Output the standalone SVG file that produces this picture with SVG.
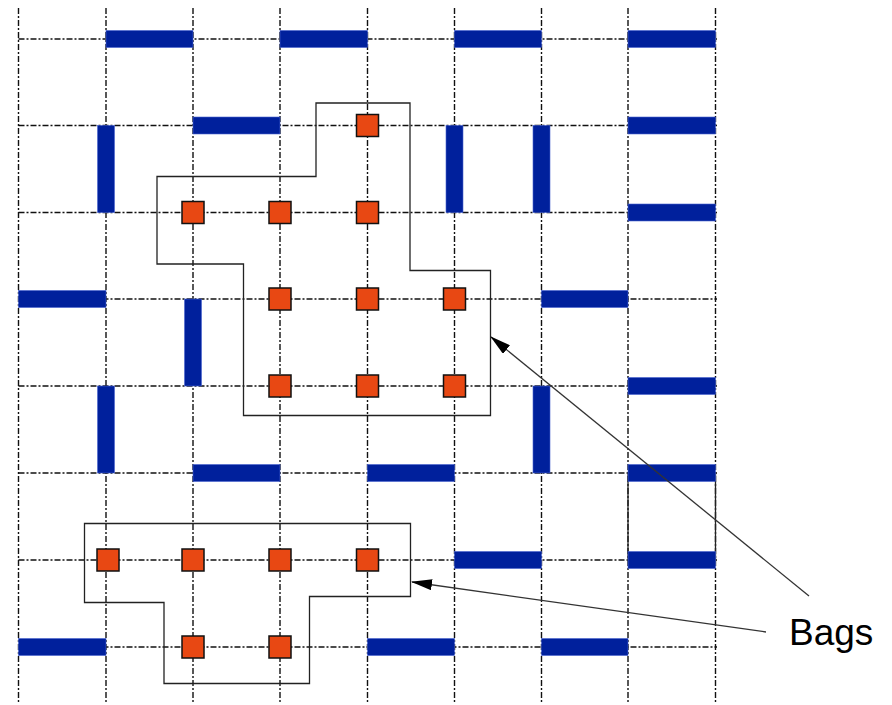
<svg xmlns="http://www.w3.org/2000/svg" width="892" height="705" viewBox="0 0 892 705">
  <style>
    .grid line { stroke: #111; stroke-width: 1.4; stroke-dasharray: 6 2 2 2; fill: none; }
    .bar { fill: #00209C; stroke: #4a64d0; stroke-width: 0.6; }
    .node rect { fill: #E84813; stroke: #111; stroke-width: 1.5; }
    .bag { fill: none; stroke: #222; stroke-width: 1.3; }
    .conn { stroke: #333; stroke-width: 1.3; fill: none; marker-end: url(#arrow); }
    .label { font-family: "Liberation Sans", Arial, sans-serif; font-size: 37px; fill: #000; }
  </style>
  <defs>
    <marker id="arrow" markerUnits="userSpaceOnUse" markerWidth="21" markerHeight="11" viewBox="0 0 21 11" refX="20" refY="5.5" orient="auto">
      <path d="M0,0 L21,5.5 L0,11 z" fill="#000"/>
    </marker>
  </defs>
  <rect width="892" height="705" fill="#fff"/>

  <g id="grid" class="grid">
    <line x1="18.5" y1="8" x2="18.5" y2="703"/>
    <line x1="106" y1="8" x2="106" y2="703"/>
    <line x1="193" y1="8" x2="193" y2="703"/>
    <line x1="280" y1="8" x2="280" y2="703"/>
    <line x1="367.5" y1="8" x2="367.5" y2="703"/>
    <line x1="454.5" y1="8" x2="454.5" y2="703"/>
    <line x1="541.5" y1="8" x2="541.5" y2="703"/>
    <line x1="628" y1="8" x2="628" y2="703"/>
    <line x1="715.5" y1="8" x2="715.5" y2="703"/>
    <line x1="18.5" y1="39" x2="717" y2="39"/>
    <line x1="18.5" y1="125.5" x2="717" y2="125.5"/>
    <line x1="18.5" y1="212.5" x2="717" y2="212.5"/>
    <line x1="18.5" y1="299" x2="717" y2="299"/>
    <line x1="18.5" y1="386" x2="717" y2="386"/>
    <line x1="18.5" y1="473" x2="717" y2="473"/>
    <line x1="18.5" y1="560" x2="717" y2="560"/>
    <line x1="18.5" y1="647" x2="717" y2="647"/>
  </g>

  <g id="bag-1"><path class="bag" d="M316,103 H410 V270.5 H490.5 V415.5 H243.5 V264 H157 V176.5 H316 Z"/></g>
  <g id="bag-2"><path class="bag" d="M84.5,523.5 H410.5 V596.5 H309.5 V683.5 H164 V602.5 H84.5 Z"/></g>
  <g id="cell-box"><rect class="bag" x="628" y="473" width="87.5" height="87"/></g>

  <g id="walls">
    <rect class="bar" x="106" y="30.5" width="87" height="17"/>
    <rect class="bar" x="280" y="30.5" width="87.5" height="17"/>
    <rect class="bar" x="454.5" y="30.5" width="87" height="17"/>
    <rect class="bar" x="628" y="30.5" width="87.5" height="17"/>
    <rect class="bar" x="193" y="117" width="87" height="17"/>
    <rect class="bar" x="628" y="117" width="87.5" height="17"/>
    <rect class="bar" x="97.5" y="125.5" width="17" height="87"/>
    <rect class="bar" x="446" y="125.5" width="17" height="87"/>
    <rect class="bar" x="533" y="125.5" width="17" height="87"/>
    <rect class="bar" x="628" y="204" width="87.5" height="17"/>
    <rect class="bar" x="18.5" y="290.5" width="87.5" height="17"/>
    <rect class="bar" x="541.5" y="290.5" width="86.5" height="17"/>
    <rect class="bar" x="184.5" y="299" width="17" height="87"/>
    <rect class="bar" x="628" y="377.5" width="87.5" height="17"/>
    <rect class="bar" x="97.5" y="386" width="17" height="87"/>
    <rect class="bar" x="533" y="386" width="17" height="87"/>
    <rect class="bar" x="193" y="464.5" width="87" height="17"/>
    <rect class="bar" x="367.5" y="464.5" width="87" height="17"/>
    <rect class="bar" x="628" y="464.5" width="87.5" height="17"/>
    <rect class="bar" x="454.5" y="551.5" width="87" height="17"/>
    <rect class="bar" x="628" y="551.5" width="87.5" height="17"/>
    <rect class="bar" x="18.5" y="638.5" width="87.5" height="17"/>
    <rect class="bar" x="367.5" y="638.5" width="87" height="17"/>
    <rect class="bar" x="541.5" y="638.5" width="86.5" height="17"/>
  </g>

  <g id="n-1-4" class="node"><rect x="356.5" y="114.5" width="22" height="22"/></g>
  <g id="n-2-2" class="node"><rect x="182" y="201.5" width="22" height="22"/></g>
  <g id="n-2-3" class="node"><rect x="269" y="201.5" width="22" height="22"/></g>
  <g id="n-2-4" class="node"><rect x="356.5" y="201.5" width="22" height="22"/></g>
  <g id="n-3-3" class="node"><rect x="269" y="288" width="22" height="22"/></g>
  <g id="n-3-4" class="node"><rect x="356.5" y="288" width="22" height="22"/></g>
  <g id="n-3-5" class="node"><rect x="443.5" y="288" width="22" height="22"/></g>
  <g id="n-4-3" class="node"><rect x="269" y="375" width="22" height="22"/></g>
  <g id="n-4-4" class="node"><rect x="356.5" y="375" width="22" height="22"/></g>
  <g id="n-4-5" class="node"><rect x="443.5" y="375" width="22" height="22"/></g>
  <g id="n-6-1" class="node"><rect x="97" y="549" width="22" height="22"/></g>
  <g id="n-6-2" class="node"><rect x="182" y="549" width="22" height="22"/></g>
  <g id="n-6-3" class="node"><rect x="269" y="549" width="22" height="22"/></g>
  <g id="n-6-4" class="node"><rect x="356.5" y="549" width="22" height="22"/></g>
  <g id="n-7-2" class="node"><rect x="182" y="636" width="22" height="22"/></g>
  <g id="n-7-3" class="node"><rect x="269" y="636" width="22" height="22"/></g>

  <g id="connectors">
    <line class="conn" x1="809" y1="596" x2="491" y2="337"/>
    <line class="conn" x1="766" y1="632" x2="412" y2="582"/>
  </g>

  <g id="label-bags"><text class="label" x="789" y="645">Bags</text></g>
</svg>
